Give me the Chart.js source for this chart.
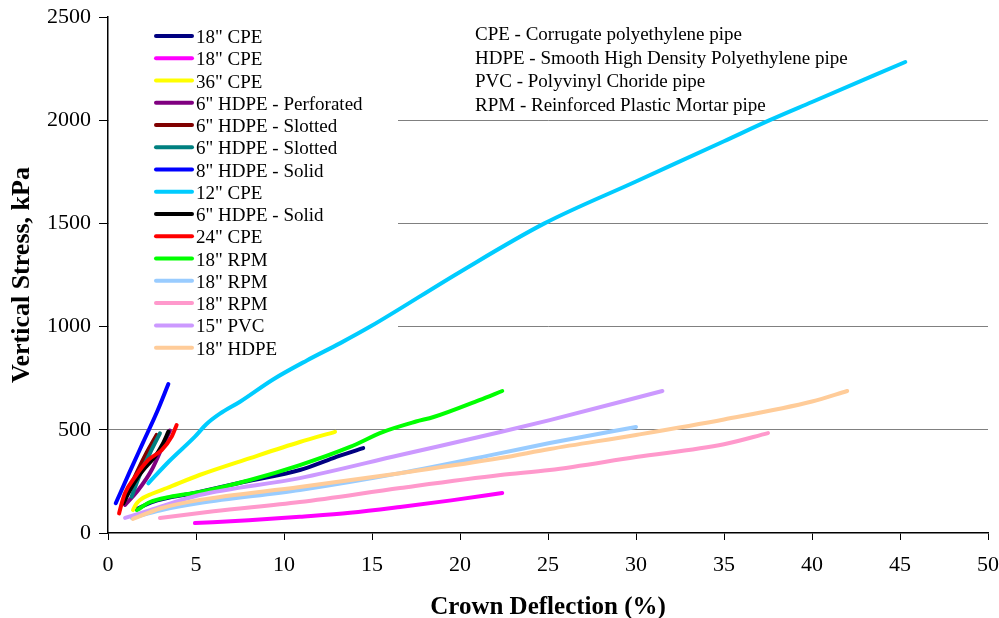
<!DOCTYPE html>
<html>
<head>
<meta charset="utf-8">
<script src="https://cdn.jsdelivr.net/npm/chart.js@4/dist/chart.umd.min.js"></script>
<style>
html,body{margin:0;padding:0;background:#fff;}
#wrap{width:999px;height:618px;position:relative;}
</style>
</head>
<body>
<div id="wrap"><canvas id="c" width="999" height="618"></canvas></div>
<script>
// ---- data (crown deflection %, vertical stress kPa) ----
const seriesLabels = ['18" CPE','18" CPE','36" CPE','6" HDPE - Perforated','6" HDPE - Slotted','6" HDPE - Slotted','8" HDPE - Solid','12" CPE','6" HDPE - Solid','24" CPE','18" RPM','18" RPM','18" RPM','15" PVC','18" HDPE'];
const seriesColors = ['#000080','#FF00FF','#FFFF00','#800080','#800000','#008080','#0000FF','#00CCFF','#000000','#FF0000','#00FF00','#99CCFF','#FF99CC','#CC99FF','#FFCC99'];

const cpe18aX = [1.6, 2.5, 5.0, 7.7, 10.9, 12.8, 14.5];
const cpe18aY = [115, 150, 195, 247, 305, 363, 411];
const cpe18bX = [4.94, 8.0, 10.9, 13.75, 16.6, 19.5, 22.4];
const cpe18bY = [48, 62, 79, 98, 126, 158, 194];
const cpe36X = [1.42, 1.6, 1.82, 2.5, 3.35, 5.2, 8.07, 10.9, 12.9];
const cpe36Y = [111, 140, 160, 190, 218, 281, 363, 441, 490];
const hdpePerfX = [0.97, 1.72, 2.48, 3.0, 3.52];
const hdpePerfY = [136, 208, 305, 400, 496];
const hdpeSlotAX = [0.87, 1.3, 1.7, 2.2, 2.76];
const hdpeSlotAY = [144, 230, 305, 390, 475];
const hdpeSlotBX = [1.34, 1.8, 2.4, 2.95];
const hdpeSlotBY = [176, 280, 390, 483];
const hdpe8SolidX = [0.44, 1.2, 2.0, 2.8, 3.43];
const hdpe8SolidY = [144, 290, 440, 590, 722];
const cpe12X = [2.29, 3.5, 4.94, 5.6, 6.36, 7.5, 9.4, 11.3, 13.2, 14.9, 20, 24.8, 30, 35, 37.6, 40, 45.3];
const cpe12Y = [241, 350, 467, 528, 578, 636, 745, 836, 920, 1000, 1265, 1500, 1703, 1898, 2000, 2088, 2282];
const hdpe6SolidX = [0.87, 1.3, 1.72, 2.2, 2.67, 3.1, 3.43];
const hdpe6SolidY = [144, 215, 273, 325, 370, 430, 491];
const cpe24X = [0.63, 0.8, 0.97, 1.53, 2.29, 3.05, 3.62, 3.9];
const cpe24Y = [95, 150, 194, 271, 354, 402, 467, 523];
const rpmAX = [1.65, 2.39, 3.5, 5.23, 8.07, 10.9, 13.75, 15.6, 17.5, 18.5, 21.1, 22.4];
const rpmAY = [111, 150, 175, 199, 257, 329, 417, 489, 540, 562, 644, 688];
const rpmBX = [1.36, 3.0, 5.2, 10.9, 16.6, 22.3, 25.1, 30];
const rpmBY = [73, 110, 145, 208, 290, 387, 436, 514];
const rpmCX = [2.95, 6.0, 10.9, 16.6, 22.3, 25.1, 30, 35, 37.5];
const rpmCY = [73, 105, 150, 218, 281, 305, 368, 430, 484];
const pvc15X = [0.97, 2.39, 5.2, 10.9, 16.6, 22.3, 25.1, 31.5];
const pvc15Y = [73, 111, 184, 266, 378, 489, 547, 688];
const hdpe18X = [1.42, 3.0, 5.2, 10.9, 16.6, 22.3, 25.1, 30, 35, 40, 42];
const hdpe18Y = [68, 120, 160, 223, 290, 363, 407, 475, 550, 637, 688];

const xTicks = [0,5,10,15,20,25,30,35,40,45,50];
const yTicks = [0,500,1000,1500,2000,2500];
const notes = ['CPE - Corrugate polyethylene pipe','HDPE - Smooth High Density Polyethylene pipe','PVC - Polyvinyl Choride pipe','RPM - Reinforced Plastic Mortar pipe'];

const seriesXs = [cpe18aX,cpe18bX,cpe36X,hdpePerfX,hdpeSlotAX,hdpeSlotBX,hdpe8SolidX,cpe12X,hdpe6SolidX,cpe24X,rpmAX,rpmBX,rpmCX,pvc15X,hdpe18X];
const seriesYs = [cpe18aY,cpe18bY,cpe36Y,hdpePerfY,hdpeSlotAY,hdpeSlotBY,hdpe8SolidY,cpe12Y,hdpe6SolidY,cpe24Y,rpmAY,rpmBY,rpmCY,pvc15Y,hdpe18Y];

const SERIF = '"Liberation Serif", "Times New Roman", serif';

const datasets = seriesLabels.map((lab, i) => ({
  label: lab,
  data: seriesXs[i].map((x, j) => ({x: x, y: seriesYs[i][j]})),
  borderColor: seriesColors[i],
  backgroundColor: seriesColors[i],
  borderWidth: 4,
  pointRadius: 0,
  fill: false,
  tension: 0.4,
  cubicInterpolationMode: 'monotone',
  borderCapStyle: 'round',
  borderJoinStyle: 'round',
  order: -i
}));

const legendPlugin = {
  id: 'boxLegend',
  beforeDatasetsDraw(chart) {
    const ctx = chart.ctx;
    ctx.save();
    ctx.fillStyle = '#fff';
    ctx.fillRect(109, 24, 289, 338);
    ctx.font = '19px ' + SERIF;
    ctx.textBaseline = 'middle';
    ctx.textAlign = 'left';
    chart.data.datasets.forEach((ds, i) => {
      const y = 36 + i * 22.26;
      ctx.strokeStyle = ds.borderColor;
      ctx.lineWidth = 4;
      ctx.lineCap = 'round';
      ctx.beginPath();
      ctx.moveTo(156, y);
      ctx.lineTo(192, y);
      ctx.stroke();
      ctx.fillStyle = '#000';
      ctx.fillText(ds.label, 196, y + 2);
    });
    notes.forEach((t, i) => {
      ctx.fillText(t, 475, 35 + i * 23.7);
    });
    ctx.restore();
  }
};

new Chart(document.getElementById('c'), {
  type: 'line',
  data: { datasets: datasets },
  plugins: [legendPlugin],
  options: {
    responsive: false,
    animation: false,
    events: [],
    layout: { padding: { top: 17, right: 11, left: 0, bottom: 0 } },
    plugins: { legend: { display: false }, tooltip: { enabled: false } },
    scales: {
      x: {
        type: 'linear',
        min: 0, max: 50,
        afterFit(s) { s.height = 85; s.paddingLeft = 0; s.paddingRight = 0; },
        afterBuildTicks(s) { s.ticks = xTicks.map(v => ({value: v})); },
        border: { color: '#000', width: 1.5 },
        grid: { drawOnChartArea: false, drawTicks: true, tickLength: 7, color: '#000' },
        ticks: { color: '#000', padding: 12, maxRotation: 0, callback: (v) => String(v), font: { family: SERIF, size: 22 } },
        title: { display: true, text: 'Crown Deflection (%)', color: '#000', padding: { top: 0, bottom: 0 }, font: { family: SERIF, size: 25, weight: 'bold', lineHeight: 0.85 } }
      },
      y: {
        type: 'linear',
        min: 0, max: 2500,
        afterFit(s) { s.width = 108; s.paddingTop = 0; s.paddingBottom = 0; },
        afterBuildTicks(s) { s.ticks = yTicks.map(v => ({value: v})); },
        border: { color: '#000', width: 1.5 },
        grid: {
          drawTicks: true, tickLength: 9, tickColor: '#000',
          color: (c) => (c.tick && c.tick.value > 0 && c.tick.value < 2500) ? '#808080' : 'rgba(0,0,0,0)',
          lineWidth: 1
        },
        ticks: { color: '#000', padding: 8, callback: (v) => String(v), font: { family: SERIF, size: 22 } },
        title: { display: true, text: 'Vertical Stress, kPa', color: '#000', padding: { top: 9, bottom: 0 }, font: { family: SERIF, size: 26, weight: 'bold', lineHeight: 1 } }
      }
    }
  }
});
</script>
</body>
</html>
